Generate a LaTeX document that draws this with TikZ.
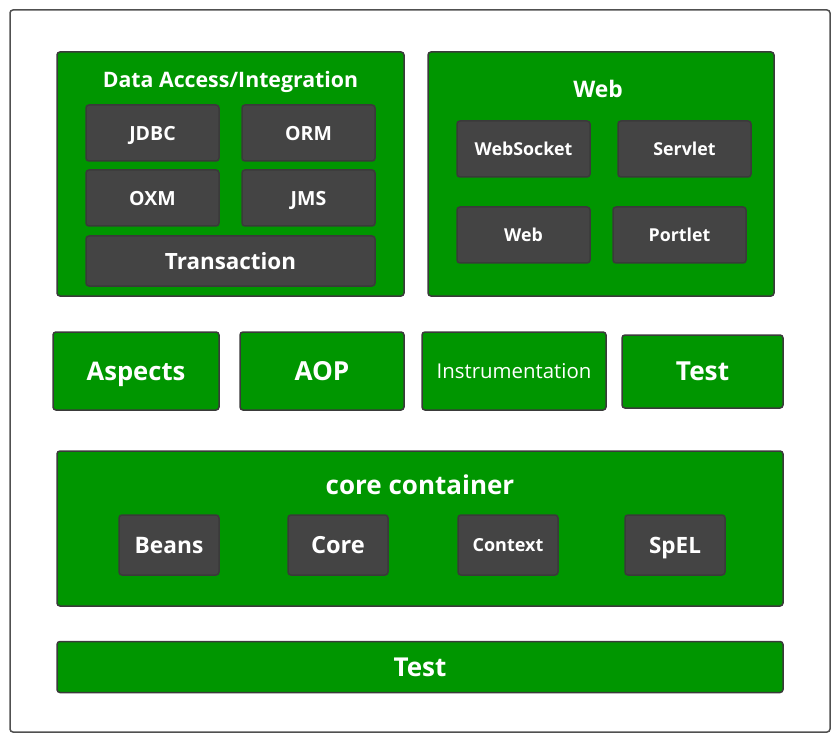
\documentclass[tikz,border=0pt]{standalone}
\usepackage{fontspec}
\setmainfont{Open Sans}
\definecolor{panelgreen}{HTML}{009600}
\definecolor{modgray}{HTML}{444444}
\definecolor{edgegray}{HTML}{3A3A3A}
\definecolor{framegray}{HTML}{505050}
\newcommand{\fs}[1]{\fontsize{#1}{#1}\selectfont}
\tikzset{
  % bold / regular label of a given size, centred on its capitals
  bf/.style={font=\bfseries\fs{#1}, text height={0.72*#1pt}, text depth=0pt},
  rg/.style={font=\fs{#1}, text height={0.72*#1pt}, text depth=0pt},
  panel/.style={draw=edgegray, fill=panelgreen, line width=1.5pt, rounded corners=3pt, inner sep=0pt},
  module/.style={draw=edgegray, fill=modgray, line width=1.5pt, rounded corners=3pt, inner sep=0pt,
    text=white},
  greenbox/.style={panel, text=white},
  title/.style={text=white, inner sep=0pt},
  box/.style args={#1x#2}{minimum width=#1pt, minimum height=#2pt}
}
\begin{document}
\begin{tikzpicture}[x=1pt,y=-1pt]
\useasboundingbox (0,0) rectangle (839,741);
% outer frame
\node[draw=framegray, line width=1.5pt, rounded corners=3pt, box=820x722, inner sep=0pt] (frame) at (420,371) {};

% Data Access / Integration
\node[panel, box=347x244] (data) at (230.5,174) {};
\node[title, bf=21.3] (datatitle) at (230.5,80) {Data Access/Integration};
\node[module, box=133x56, bf=19.5] (jdbc) at (152.5,133) {JDBC};
\node[module, box=133x56, bf=19.5] (orm) at (308.5,133) {ORM};
\node[module, box=133x56, bf=19.5] (oxm) at (152.5,198) {OXM};
\node[module, box=133x56, bf=19.5] (jms) at (308.5,198) {JMS};
\node[module, box=289x50, bf=22.4] (tx) at (230.5,261) {Transaction};

% Web
\node[panel, box=346x244] (web) at (601,174) {};
\node[title, bf=22.8] (webtitle) at (598,89) {Web};
\node[module, box=133x56, bf=17.8] (websocket) at (523.5,149) {WebSocket};
\node[module, box=133x56, bf=17.8] (servlet) at (684.5,149) {Servlet};
\node[module, box=133x56, bf=17.8] (webmod) at (523.5,235) {Web};
\node[module, box=133x56, bf=17.8] (portlet) at (679.5,235) {Portlet};

% middle row
\node[greenbox, box=166x78, bf=25.6] (aspects) at (136,371) {Aspects};
\node[greenbox, box=164x78, bf=26.2] (aop) at (322,371) {AOP};
\node[greenbox, box=184x78, rg=20.4] (instr) at (514,371) {Instrumentation};
\node[greenbox, box=161x73, bf=26.2] (test1) at (702.5,371.5) {Test};

% core container
\node[panel, box=726x155] (core) at (420,528.5) {};
\node[title, bf=26] (coretitle) at (420,485) {core container};
\node[module, box=100x60, bf=22.7] (beans) at (169,545) {Beans};
\node[module, box=100x60, bf=23.6] (coremod) at (338,545) {Core};
\node[module, box=100x60, bf=18] (context) at (508,545) {Context};
\node[module, box=100x60, bf=22.5] (spel) at (675,545) {SpEL};

% bottom bar
\node[greenbox, box=726x51, bf=26] (test2) at (420,667) {Test};
\end{tikzpicture}
\end{document}
